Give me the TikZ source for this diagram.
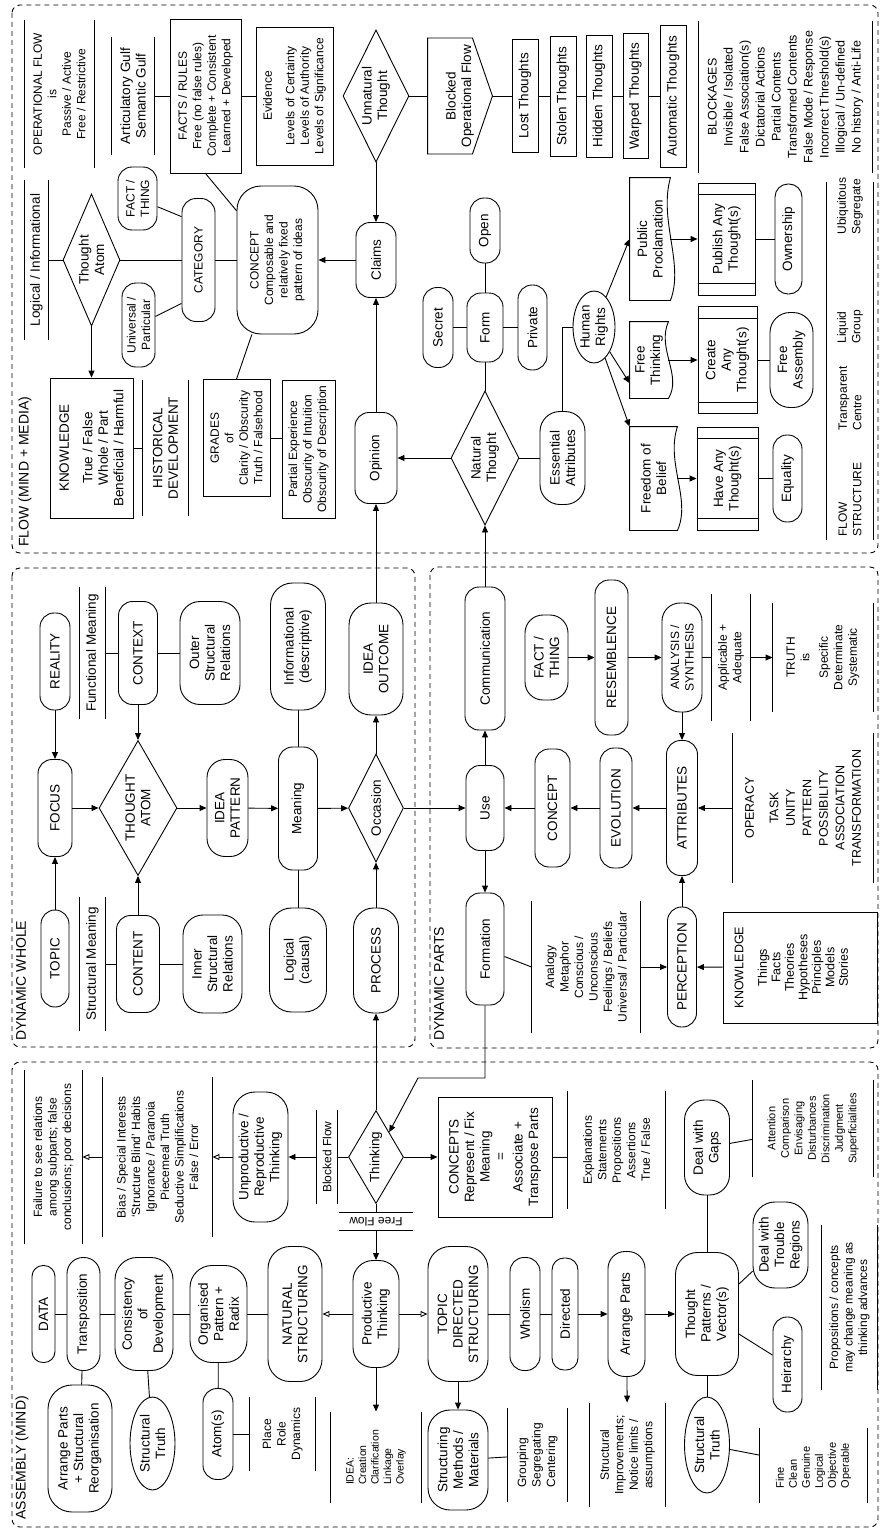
\documentclass[tikz,border=0pt]{standalone}
\usepackage{fontspec}
\setmainfont{Liberation Sans}
\setsansfont{Liberation Sans}
\usetikzlibrary{shapes.geometric,arrows.meta,calc}
\newcommand\fsA{\fontsize{13.5}{15.5}\selectfont}
\newcommand\fsB{\fontsize{12}{14.5}\selectfont}
\newcommand\fsC{\fontsize{10.5}{12.5}\selectfont}
\newcommand\fsT{\fontsize{14}{16}\selectfont}
\newcommand\mybars[1]{\draw (#1.north west) -- (#1.north east) (#1.south west) -- (#1.south east);}
\newcommand\mypredef[1]{\draw ($(#1.north east)+(0,12)$) -- ($(#1.south east)+(0,12)$) ($(#1.north west)+(0,-12)$) -- ($(#1.south west)+(0,-12)$);}
\newcommand\mydocu[1]{\draw (#1.north east) -- (#1.south east) .. controls ($(#1.south east)!0.35!(#1.south west)+(-12,0)$) and ($(#1.south east)!0.7!(#1.south west)+(14,0)$) .. (#1.south west) -- (#1.north west) -- cycle;}
\begin{document}
\begin{tikzpicture}[x=1pt,y=-1pt,line width=0.9pt,
  nbase/.style={rotate=90,align=center,inner sep=1pt,font=\fsA},
  nbase0/.style={align=center,inner sep=1pt,font=\fsA},
  ntxt/.style={nbase},
  nsz/.style 2 args={minimum width=#1,minimum height=#2},
  nrb/.style={nbase,draw,rounded corners=#1},
  nrb/.default=14pt,
  nrect/.style={nbase,draw},
  ndia/.style={nbase,draw,diamond,inner sep=0pt},
  nell/.style={nbase,draw,ellipse,inner sep=0pt},
  arr/.style={-{Triangle[length=7pt,width=6pt]}},
  oarr/.style={-{Triangle[open,length=7pt,width=6pt]}},
  dframe/.style={dash pattern=on 5pt off 4pt,rounded corners=8pt,line width=0.9pt}]
\useasboundingbox (0,0) rectangle (882,1528);

% ================= FLOW =================
\draw[dframe] (12,5) rectangle (878,553);
\node[ntxt,font=\fsT,anchor=west] (tflow) at (25,548) {FLOW (MIND + MEDIA)};

\node[ntxt,font=\fsB,nsz={148}{69}] (opflow) at (59.5,94) {OPERATIONAL FLOW\\is\\Passive / Active\\Free / Restrictive};
\node[ntxt,nsz={117}{42}] (artgulf) at (133,96) {Articulatory Gulf\\Semantic Gulf};
\node[ntxt,nsz={160}{23}] (logical) at (36.5,260) {Logical / Informational};
\node[nrect,font=\fsB,nsz={154}{71}] (facts) at (205.5,96) {FACTS / RULES\\Free (no false rules)\\Complete + Consistent\\Learned + Developed};
\node[nrect,font=\fsB,nsz={138}{77}] (evid) at (294.5,96) {Evidence\\[8pt]Levels of Certainty\\Levels of Authority\\Levels of Significance};
\node[ndia,shape aspect=2.3,nsz={132}{57}] (ta1) at (91.5,260) {Thought\\Atom};
\node[nrb,font=\fsB,nsz={123}{33}] (cat) at (198.5,260) {CATEGORY};
\node[nrb,font=\fsB,nsz={63}{39}] (ft1) at (137.5,198.5) {FACT /\\THING};
\node[nrb,font=\fsB,nsz={84}{33}] (univ) at (138.5,325) {Universal /\\Particular};
\node[nrb=24pt,font=\fsB,nsz={148}{81}] (concept1) at (277.5,260) {CONCEPT\\Composable and\\relatively fixed\\pattern of ideas};
\node[nrb,nsz={75}{40}] (claims) at (376,260) {Claims};
\node[ndia,shape aspect=2,nsz={132}{66}] (unnat) at (376,96) {Unnatural\\Thought};
\node[ntxt,nsz={115}{64}] (blocked) at (460,96) {Blocked\\Operational Flow};
\draw (blocked.north east) -- ($(blocked.south east)+(-20,0)$) -- (blocked.south) -- ($(blocked.south west)+(-20,0)$) -- (blocked.north west) -- cycle;
\node[nrect,nsz={113}{26}] (lost) at (525,96) {Lost Thoughts};
\node[nrect,nsz={120}{26}] (stolen) at (563,96) {Stolen Thoughts};
\node[nrect,nsz={122}{26}] (hidden) at (599,96) {Hidden Thoughts};
\node[nrect,nsz={125}{25}] (warped) at (635.5,96) {Warped Thoughts};
\node[nrect,nsz={142}{26}] (autom) at (673,96) {Automatic Thoughts};
\node[ntxt,font=\fontsize{12.5}{16}\selectfont,nsz={151}{173}] (blockages) at (785.5,97) {BLOCKAGES\\Invisible / Isolated\\False Association(s)\\Dictatorial Actions\\Partial Contents\\Transformed Contents\\False Mode / Response\\Incorrect Threshold(s)\\Illogical / Un-defined\\No history / Anti-Life};

\node[ntxt,nsz={358}{46}] (fstruct) at (850,361) {};
\node[ntxt,font=\fsB,anchor=west,align=left] (fs1) at (850,538) {FLOW\\STRUCTURE};
\node[ntxt,font=\fsB,anchor=west,align=left] (fs2) at (850,432) {Transparent\\Centre};
\node[ntxt,font=\fsB,anchor=west,align=left] (fs3) at (850,345) {Liquid\\Group};
\node[ntxt,font=\fsB,anchor=west,align=left] (fs4) at (850,236) {Ubiquitous\\Segregate};

\node[nrect,nsz={140}{83}] (know1) at (91.5,448) {KNOWLEDGE\\[8pt]True / False\\Whole / Part\\Beneficial / Harmful};
\node[ntxt,nsz={135}{45}] (histdev) at (165.5,448) {HISTORICAL\\DEVELOPMENT};
\node[nrect,font=\fsB,nsz={117}{67}] (grades) at (236.5,438) {GRADES\\of\\Clarity / Obscurity\\Truth / Falsehood};
\node[nrect,font=\fsB,nsz={138}{53}] (partial) at (308.5,449) {Partial Experience\\Obscurity of Intuition\\Obscurity of Description};
\node[nrb,nsz={91}{42}] (opinion) at (376,458) {Opinion};
\node[ndia,shape aspect=1.97,nsz={134}{68}] (natural) at (485,458) {Natural\\Thought};
\node[nrb,nsz={69}{36}] (form) at (485,327.5) {Form};
\node[nrb,nsz={80}{30}] (secret) at (438,327.5) {Secret};
\node[nrb,nsz={85}{29}] (private) at (532.5,327.5) {Private};
\node[nrb,nsz={65}{30}] (open) at (485,230.5) {Open};
\node[nell,nsz={72}{42}] (hr) at (594,327) {Human\\Rights};
\node[nrb=20pt,nsz={93}{45}] (ea) at (562.5,458) {Essential\\Attributes};

\node[ntxt,nsz={122}{40}] (pp) at (650,239) {Public\\Proclamation};
\mydocu{pp}
\node[ntxt,nsz={76}{38}] (fthink) at (649,360) {Free\\Thinking};
\mydocu{fthink}
\node[ntxt,nsz={103}{47}] (fbelief) at (653.5,478.5) {Freedom of\\Belief};
\mydocu{fbelief}
\node[nrect,nsz={112}{57}] (publish) at (726.5,239) {Publish Any\\Thought(s)};
\mypredef{publish}
\node[nrect,nsz={107}{59}] (create) at (727.5,360) {Create\\Any\\Thought(s)};
\mypredef{create}
\node[nrect,nsz={103}{61}] (have) at (727.5,478.5) {Have Any\\Thought(s)};
\mypredef{have}
\node[nrb=13pt,nsz={110}{27}] (owner) at (788.5,239) {Ownership};
\node[nrb=20pt,nsz={95}{43}] (fassem) at (791.5,360) {Free\\Assembly};
\node[nrb=14pt,nsz={87}{29}] (equal) at (787.5,478.5) {Equality};

% ================= DYNAMIC WHOLE =================
\draw[dframe] (12,568) rectangle (415,1047);
\node[ntxt,font=\fsT,anchor=west] (tdw) at (21,1042) {DYNAMIC WHOLE};
\node[nrb,nsz={97}{30}] (reality) at (55,661.5) {REALITY};
\node[ntxt,nsz={131}{25}] (funcm) at (92.5,653) {Functional Meaning};
\node[nrb,nsz={103}{39}] (context) at (138,653) {CONTEXT};
\node[nrb=20pt,nsz={103}{60}] (outer) at (210,653) {Outer\\Structural\\Relations};
\node[nrb=22pt,nsz={127}{55}] (inform) at (298,646.5) {Informational\\(descriptive)};
\node[nrb=22pt,nsz={112}{54}] (ideaout) at (376,659) {IDEA\\OUTCOME};
\node[nrb,nsz={97}{34}] (focus) at (55,808) {FOCUS};
\node[ndia,shape aspect=1.73,nsz={135}{78}] (ta2) at (138,808) {THOUGHT\\ATOM};
\node[nrb=18pt,nsz={97}{41}] (ideapat) at (227.5,808) {IDEA\\PATTERN};
\node[nrb,nsz={123}{39}] (meaning) at (298,808.5) {Meaning};
\node[ndia,shape aspect=1.96,nsz={108}{55}] (occasion) at (376,808) {Occasion};
\node[nrb,nsz={97}{28}] (topic) at (55,958.5) {TOPIC};
\node[ntxt,nsz={134}{25}] (structm) at (92.5,964) {Structural Meaning};
\node[nrb,nsz={97}{43}] (content) at (138,964) {CONTENT};
\node[nrb=20pt,nsz={98}{59}] (inner) at (212.5,964) {Inner\\Structural\\Relations};
\node[nrb=22pt,nsz={104}{57}] (logicalc) at (298,960) {Logical\\(causal)};
\node[nrb=20pt,nsz={105}{45}] (process) at (376,960.5) {PROCESS};

% ================= DYNAMIC PARTS =================
\draw[dframe] (430,567) rectangle (878,1048);
\node[ntxt,font=\fsT,anchor=west] (tdp) at (439,1042) {DYNAMIC PARTS};
\node[nrb,nsz={143}{40}] (comm) at (485,658.5) {Communication};
\node[nrb=18pt,nsz={85}{43}] (ft2) at (546.5,657.5) {FACT /\\THING};
\node[nrb,nsz={155}{33}] (resem) at (611.5,657.5) {RESEMBLENCE};
\node[nrb=18pt,font=\fsB,nsz={109}{40}] (analysis) at (682,657.5) {ANALYSIS /\\SYNTHESIS};
\node[ntxt,font=\fsB,nsz={127}{38}] (applic) at (731,657.5) {Applicable +\\Adequate};
\node[ntxt,font=\fsB,nsz={108}{100}] (truth) at (823,657.5) {TRUTH\\is\\[4pt]Specific\\Determinate\\Systematic};
\node[nrb,nsz={85}{38}] (use) at (485,808) {Use};
\node[nrb,nsz={118}{35}] (concept2) at (552.5,808) {CONCEPT};
\node[nrb,nsz={120}{32}] (evol) at (616,808) {EVOLUTION};
\node[nrb,nsz={135}{31}] (attrib) at (682,808) {ATTRIBUTES};
\node[ntxt,font=\fontsize{12.5}{16.5}\selectfont,nsz={150}{140}] (operacy) at (803,808) {OPERACY\\[8pt]TASK\\UNITY\\PATTERN\\POSSIBILITY\\ASSOCIATION\\TRANSFORMATION};
\node[nrb,nsz={112}{38}] (formation) at (485,949) {Formation};
\node[ntxt,font=\fsB,nsz={132}{108}] (analogy) at (586,967) {Analogy\\Metaphor\\Conscious /\\Unconscious\\Feelings / Beliefs\\Universal / Particular};
\node[nrb,nsz={120}{29}] (percep) at (682,967) {PERCEPTION};
\node[nrect,font=\fontsize{12.5}{13.5}\selectfont,nsz={111}{154}] (know2) at (800,967.5) {KNOWLEDGE\\[10pt]Things\\Facts\\Theories\\Hypotheses\\Principles\\Models\\Stories\\[4pt]~};

% ================= ASSEMBLY =================
\draw[dframe] (12,1062) rectangle (878,1527);
\node[ntxt,font=\fsT,anchor=west] (tas) at (22,1521) {ASSEMBLY (MIND)};
\node[ntxt,font=\fsB,nsz={173}{57}] (failure) at (53.5,1157) {Failure to see relations\\among subparts; false\\conclusions; poor decisions};
\node[ntxt,font=\fsB,nsz={160}{109}] (bias) at (157.5,1157) {Bias / Special Interests\\`Structure Blind' Habits\\Ignorance / Paranoia\\Piecemeal Truth\\Seductive Simplifications\\False / Error};
\node[nrb=22pt,nsz={130}{55}] (unprod) at (260.5,1157) {Unproductive /\\Reproductive\\Thinking};
\node[ntxt,font=\fsB,nsz={93}{20}] (bflow) at (327,1157) {Blocked Flow};
\node[ndia,shape aspect=1.69,nsz={93}{55}] (thinking) at (376,1157) {Thinking};
\node[nbase0,font=\fsB,rotate=180,nsz={73}{17}] (fflow) at (376,1221.5) {Free Flow};
\node[nrect,nsz={120}{114}] (concepts) at (495,1157) {CONCEPTS\\Represent / Fix\\Meaning\\=\\[2pt]Associate +\\Transpose Parts};
\node[ntxt,font=\fsB,nsz={117}{97}] (explan) at (616.5,1150) {Explanations\\Statements\\Propositions\\Assertions\\True / False};
\node[nrb=22pt,nsz={135}{54}] (natstr) at (295,1314) {NATURAL\\STRUCTURING};
\node[nrb=20pt,nsz={107}{46}] (product) at (376,1314) {Productive\\Thinking};
\node[nrb=22pt,nsz={135}{60}] (topicdir) at (458,1314) {TOPIC\\DIRECTED\\STRUCTURING};
\node[nrb,nsz={113}{30}] (wholism) at (525,1314) {Wholism};
\node[nrb=12pt,nsz={112}{26}] (directed) at (565,1314) {Directed};
\node[nrb=17pt,nsz={125}{37}] (arrparts) at (626.5,1314) {Arrange Parts};
\node[nrb=22pt,nsz={123}{63}] (tpat) at (707,1314) {Thought\\Patterns /\\Vector(s)};
\node[nrb=11pt,nsz={97}{23}] (data) at (43.5,1314) {DATA};
\node[nrb=16pt,nsz={113}{33}] (transpo) at (83.5,1314) {Transposition};
\node[nrb=22pt,nsz={113}{58}] (consist) at (144,1314) {Consistency\\of\\Development};
\node[nrb=22pt,nsz={97}{57}] (organ) at (218.5,1314) {Organised\\Pattern +\\Radix};
\node[nrb=24pt,nsz={127}{64}] (arrstr) at (80,1448.5) {Arrange Parts\\+ Structural\\Reorganisation};
\node[nell,nsz={93}{45}] (struct1) at (152.5,1443.5) {Structural\\Truth};
\node[nrb,nsz={91}{30}] (atoms) at (218,1434) {Atom(s)};
\node[ntxt,font=\fsB,nsz={74}{65}] (place) at (282.5,1434) {Place\\Role\\Dynamics};
\node[ntxt,font=\fsC,align=left,nsz={91}{90}] (idea) at (376,1457.5) {IDEA:\\Creation\\Clarification\\Linkage\\Overlay};
\node[nrb=22pt,nsz={100}{60}] (smeth) at (458,1460) {Structuring\\Methods /\\Materials};
\node[ntxt,font=\fsB,align=left,nsz={94}{59}] (group) at (537.5,1455) {Grouping\\Segregating\\Centering};
\node[ntxt,font=\fsB,nsz={104}{75}] (simp) at (627.5,1455) {Structural\\Improvements;\\Notice limits /\\assumptions};
\node[nrb=20pt,nsz={95}{45}] (gaps) at (707,1147.5) {Deal with\\Gaps};
\node[ntxt,font=\fontsize{11}{13.5}\selectfont,nsz={97}{120}] (attn) at (813,1128.5) {Attention\\Comparison\\Envisaging\\Disturbances\\Discrimination\\Judgment\\Superficialities};
\node[nrb=22pt,nsz={86}{55}] (trouble) at (780.5,1245) {Deal with\\Trouble\\Regions};
\node[nrb,nsz={95}{29}] (heir) at (787.5,1364.5) {Heirarchy};
\node[nell,nsz={96}{45}] (struct2) at (707,1445) {Structural\\Truth};
\node[ntxt,font=\fontsize{11}{13}\selectfont,align=left,nsz={75}{107}] (fine) at (813.5,1465.5) {Fine\\Clean\\Genuine\\Logical\\Objective\\Operable};
\node[ntxt,font=\fsB,nsz={165}{55}] (props) at (849.5,1307.5) {Propositions / concepts\\may change meaning as\\thinking advances};

% ================= bars =================
\mybars{opflow}\mybars{artgulf}\mybars{logical}\mybars{histdev}\mybars{blockages}\mybars{fstruct}
\mybars{funcm}\mybars{structm}\mybars{applic}\mybars{truth}\mybars{operacy}\mybars{analogy}
\mybars{failure}\mybars{bias}\mybars{bflow}\mybars{fflow}\mybars{explan}\mybars{place}
\mybars{idea}\mybars{group}\mybars{simp}\mybars{attn}\mybars{fine}\mybars{props}

% ================= connectors: FLOW =================
\draw (logical) -- (ta1);
\draw (ta1) -- (cat);
\draw (cat) -- (concept1);
\draw (ft1) -- ($(cat.north east)!0.15!(cat.north west)$);
\draw (univ) -- ($(cat.north west)!0.15!(cat.north east)$);
\draw[arr] (ta1) -- (know1);
\draw (artgulf) -- (facts);
\draw (facts) -- (evid);
\draw (facts.west) -- (concept1);
\draw (grades.east) -- (concept1);
\draw[arr] (claims) -- (concept1);
\draw[arr] (unnat) -- (claims);
\draw[arr] (opinion) -- (claims);
\draw (unnat) -- (blocked);
\draw (blocked) -- (lost);
\draw (lost) -- (stolen);
\draw (stolen) -- (hidden);
\draw (hidden) -- (warped);
\draw (warped) -- (autom);
\draw (know1) -- (histdev);
\draw (grades.south) -- (grades.south -| partial.north);
\draw[arr] (natural) -- (opinion);
\draw (natural) -- (ea);
\draw (form) -- (natural);
\draw (secret) -- (form);
\draw (form) -- (private);
\draw (open) -- (form);
\draw (ea.east) |- (hr);
\draw[arr] (hr) -- (pp.north);
\draw[arr] (hr) -- ($(fthink.north)!0.6!(fthink.north west)$);
\draw[arr] (hr) -- (fbelief.north east);
\draw[arr] (pp) -- (publish);
\draw[arr] (fthink) -- (create);
\draw[arr] (fbelief) -- (have);
\draw (publish) -- (owner);
\draw (create) -- (fassem);
\draw (have) -- (equal);

% ================= connectors: DYNAMIC WHOLE =================
\draw[arr] (reality) -- (focus);
\draw[arr] (topic) -- (focus);
\draw[arr] (focus) -- (ta2);
\draw (funcm) -- (context);
\draw (context) -- (outer);
\draw[arr] (context) -- (ta2);
\draw (structm) -- (content);
\draw (content) -- (inner);
\draw[arr] (content) -- (ta2);
\draw[arr] (ta2) -- (ideapat);
\draw[arr] (ideapat) -- (meaning);
\draw[arr] (meaning) -- (occasion);
\draw (inform) -- (meaning);
\draw (logicalc) -- (meaning);
\draw[arr] (occasion) -- (ideaout);
\draw[arr] (process) -- (occasion);
\draw[arr] (ideaout) -- (opinion);
\draw[arr] (occasion) -- (use);

% ================= connectors: DYNAMIC PARTS =================
\draw[arr] (use) -- (comm);
\draw[arr] (comm) -- (natural);
\draw[arr] (concept2) -- (use);
\draw[arr] (evol) -- (concept2);
\draw[arr] (attrib) -- (evol);
\draw[arr] (operacy) -- (attrib);
\draw[arr] (ft2) -- (resem);
\draw[arr] (resem) -- (analysis);
\draw (analysis) -- (applic);
\draw[arr] (applic) -- (truth);
\draw[arr] (analysis) -- (attrib);
\draw[arr] (percep) -- (attrib);
\draw[arr] (know2) -- (percep);
\draw[arr] (analogy) -- (percep);
\draw[arr] (use) -- (formation);
\draw (formation) -- (analogy.north);
\coordinate (fbend) at (418,1078);
\draw[arr] (formation) |- (fbend) -- (thinking);

% ================= connectors: ASSEMBLY =================
\draw[arr] (thinking) -- (process);
\draw (thinking) -- (bflow);
\draw[arr] (bflow) -- (unprod);
\draw[oarr] (unprod) -- (bias);
\draw[oarr] (bias) -- (failure);
\draw[arr] (thinking) -- (concepts);
\draw (concepts.south) -- (concepts.south -| explan.north);
\draw (thinking) -- (fflow);
\draw[arr] (fflow) -- (product);
\draw[oarr] (product) -- (natstr);
\draw[oarr] (product) -- (topicdir);
\draw (topicdir) -- (wholism);
\draw (wholism) -- (directed);
\draw[arr] (directed) -- (arrparts);
\draw[arr] (arrparts) -- (tpat);
\draw (data) -- (transpo);
\draw (transpo) -- (consist);
\draw (consist) -- (organ);
\draw (organ) -- (natstr);
\draw (transpo) -- (arrstr);
\draw (consist) -- (struct1);
\draw (organ) -- (atoms);
\draw (atoms) -- (place);
\draw[arr] (product) -- (idea);
\draw[arr] (topicdir) -- (smeth);
\draw (smeth) -- (group);
\draw[arr] (arrparts) -- (simp);
\draw (tpat) -- (gaps);
\draw (gaps) -- (attn);
\draw (tpat) -- (trouble);
\draw (tpat) -- (heir);
\draw (tpat) -- (struct2);
\draw (struct2) -- (fine);
\end{tikzpicture}
\end{document}
